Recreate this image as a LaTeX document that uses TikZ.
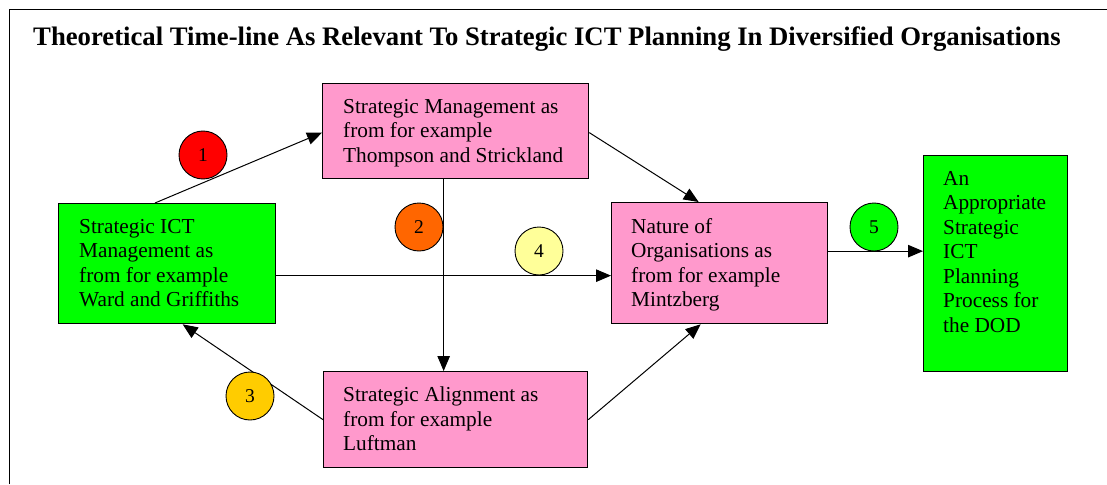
\documentclass[tikz,border=0pt]{standalone}
\usepackage{fontspec}
\setmainfont{Liberation Serif}
\usetikzlibrary{arrows.meta}
\definecolor{gbox}{HTML}{00FF00}
\definecolor{pbox}{HTML}{FF99CC}
\definecolor{cred}{HTML}{FF0000}
\definecolor{corange}{HTML}{FF6600}
\definecolor{cgold}{HTML}{FFCC00}
\definecolor{clight}{HTML}{FFFF99}
\begin{document}
\begin{tikzpicture}[x=1pt,y=-1pt,
  box/.style={draw, line width=1.3pt, anchor=north west, inner sep=0pt},
  txt/.style={anchor=north west, inner sep=0pt, align=left, font=\fontsize{21.3}{24.5}\selectfont},
  num/.style={circle, draw, line width=0.9pt, minimum size=48pt, inner sep=0pt, font=\fontsize{19.5}{19.5}\selectfont},
  conn/.style={line width=1pt, -{Triangle[length=15pt,width=12.5pt]}},
  plainline/.style={line width=1pt}]
\useasboundingbox (0,0) rectangle (1107,484);
\fill[white] (0,0) rectangle (1107,484);
\draw[line width=1pt] (9.5,484) -- (9.5,9.5) -- (1107,9.5);
\node[anchor=base west, inner sep=0pt, font=\bfseries\fontsize{26.7}{26.7}\selectfont] (title) at (33,46)
  {Theoretical Time-line As Relevant To Strategic ICT Planning In Diversified Organisations};
% boxes
\node[box, fill=gbox, minimum width=217pt, minimum height=120pt] (A) at (58,203) {};
\node[box, fill=pbox, minimum width=266pt, minimum height=95pt] (B) at (322,83) {};
\node[box, fill=pbox, minimum width=216pt, minimum height=121pt] (C) at (611,202) {};
\node[box, fill=pbox, minimum width=264pt, minimum height=96pt] (D) at (323,371) {};
\node[box, fill=gbox, minimum width=144pt, minimum height=216pt] (E) at (923,155) {};
% texts
\node[txt] (tA) at ([xshift=21pt,yshift=-16pt]A.north west) {Strategic ICT\\Management as\\from for example\\Ward and Griffiths};
\node[txt] (tB) at ([xshift=21pt,yshift=-16pt]B.north west) {Strategic Management as\\from for example\\Thompson and Strickland};
\node[txt] (tC) at ([xshift=20pt,yshift=-16pt]C.north west) {Nature of\\Organisations as\\from for example\\Mintzberg};
\node[txt] (tD) at ([xshift=20pt,yshift=-16pt]D.north west) {Strategic Alignment as\\from for example\\Luftman};
\node[txt] (tE) at ([xshift=20pt,yshift=-16pt]E.north west) {An\\Appropriate\\Strategic\\ICT\\Planning\\Process for\\the DOD};
% connectors
\draw[conn] ([xshift=97pt]A.north west) -- ([yshift=-1.5pt]B.west);
\draw[conn] ([xshift=-12pt]B.south) -- ([xshift=-12pt]D.north);
\draw[conn] (D.west) -- ([xshift=15.5pt]A.south);
\draw[conn] ([yshift=-12pt]A.east) -- ([yshift=-12pt]A.east -| C.west);
\draw[conn] ([yshift=-1.5pt]B.east) -- ([xshift=-21pt]C.north);
\draw[conn] (D.east) -- ([xshift=-19pt]C.south);
\draw[conn] ([yshift=12pt]C.east) -- ([yshift=12pt]C.east -| E.west);
% numbered circles
\node[num, fill=cred] (n1) at (203,155) {1};
\node[num, fill=corange] (n2) at (419,227) {2};
\node[num, fill=cgold] (n3) at (250,396) {3};
\node[num, fill=clight] (n4) at (539,251) {4};
\node[num, fill=gbox] (n5) at (874,227) {5};
\end{tikzpicture}
\end{document}
